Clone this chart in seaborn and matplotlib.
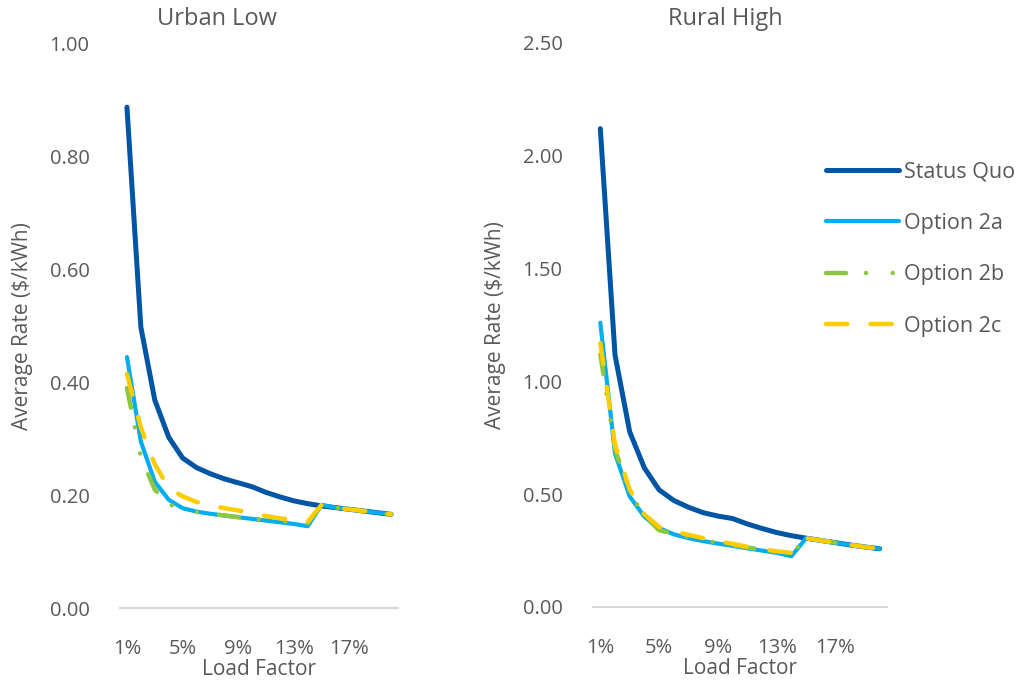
"""Average rate vs load factor — Urban Low and Rural High panels."""

import matplotlib
matplotlib.use("Agg")
import matplotlib.pyplot as plt
import seaborn as sns

LOAD_FACTOR = list(range(1, 21))
TICK_POS = [1, 5, 9, 13, 17]
TICK_LABELS = ["1%", "5%", "9%", "13%", "17%"]

SERIES = ["Status Quo", "Option 2a", "Option 2b", "Option 2c"]

# Urban Low ($/kWh)
URBAN_SQ = [0.888, 0.498, 0.369, 0.303, 0.266, 0.249, 0.238, 0.229, 0.222, 0.215,
            0.205, 0.197, 0.190, 0.185, 0.181, 0.178, 0.175, 0.172, 0.169, 0.166]
URBAN_2A = [0.445, 0.295, 0.224, 0.192, 0.177, 0.171, 0.167, 0.164, 0.161, 0.158,
            0.155, 0.152, 0.149, 0.145, 0.183, 0.178, 0.175, 0.172, 0.169, 0.166]
URBAN_2B = [0.390, 0.268, 0.210, 0.185, 0.172, 0.170, 0.167, 0.164, 0.161, 0.159,
            0.156, 0.154, 0.152, 0.150, 0.183, 0.178, 0.175, 0.172, 0.169, 0.166]
URBAN_2C = [0.415, 0.320, 0.255, 0.213, 0.198, 0.188, 0.182, 0.177, 0.173, 0.168,
            0.163, 0.159, 0.156, 0.153, 0.183, 0.178, 0.175, 0.172, 0.169, 0.166]

# Rural High ($/kWh)
RURAL_SQ = [2.12, 1.117, 0.776, 0.616, 0.519, 0.472, 0.442, 0.418, 0.403, 0.392,
            0.368, 0.348, 0.330, 0.316, 0.305, 0.295, 0.285, 0.275, 0.266, 0.258]
RURAL_2A = [1.26, 0.680, 0.490, 0.400, 0.350, 0.322, 0.305, 0.292, 0.281, 0.271,
            0.260, 0.250, 0.240, 0.225, 0.305, 0.295, 0.285, 0.275, 0.266, 0.258]
RURAL_2B = [1.12, 0.700, 0.505, 0.405, 0.340, 0.325, 0.310, 0.296, 0.285, 0.275,
            0.264, 0.254, 0.245, 0.235, 0.305, 0.295, 0.285, 0.275, 0.266, 0.258]
RURAL_2C = [1.17, 0.720, 0.520, 0.410, 0.355, 0.335, 0.320, 0.305, 0.292, 0.280,
            0.267, 0.256, 0.247, 0.240, 0.305, 0.295, 0.285, 0.275, 0.266, 0.258]

COLORS = {
    "Status Quo": "#0055A4",
    "Option 2a": "#00AEEF",
    "Option 2b": "#8DC63F",
    "Option 2c": "#FFCC00",
}
WIDTHS = {"Status Quo": 3.6, "Option 2a": 3.0, "Option 2b": 3.2, "Option 2c": 3.2}
STYLES = {
    "Status Quo": "-",
    "Option 2a": "-",
    "Option 2b": (0, (4.5, 4.5, 0.01, 6, 0.01, 5)),
    "Option 2c": (0, (4.8, 5.2)),
}

GRAY = "#595959"

sns.set_style("white")
plt.rcParams.update({
    "font.family": ["Open Sans", "DejaVu Sans"],
    "text.color": GRAY,
    "axes.labelcolor": GRAY,
    "xtick.color": GRAY,
    "ytick.color": GRAY,
})

fig = plt.figure(figsize=(10.3, 6.82), dpi=100)
ax1 = fig.add_axes([0.1165, 0.1085, 0.27, 0.827])
ax2 = fig.add_axes([0.5757, 0.1100, 0.2854, 0.827])

panels = [
    (ax1, "Urban Low", [URBAN_SQ, URBAN_2A, URBAN_2B, URBAN_2C], 1.0, 0.2, 0.211),
    (ax2, "Rural High", [RURAL_SQ, RURAL_2A, RURAL_2B, RURAL_2C], 2.5, 0.5, 0.704),
]

for ax, title, data, ymax, step, title_x in panels:
    for name, vals in zip(SERIES, data):
        sns.lineplot(
            x=LOAD_FACTOR, y=vals, ax=ax, color=COLORS[name],
            linewidth=WIDTHS[name], linestyle=STYLES[name],
            solid_capstyle="round", dash_capstyle="round",
            solid_joinstyle="round", label=name, legend=False,
        )
    ax.set_xlim(0.5, 20.5)
    ax.set_ylim(0, ymax)
    n = int(round(ymax / step))
    ax.set_yticks([i * step for i in range(n + 1)])
    ax.set_yticklabels([f"{i * step:.2f}" for i in range(n + 1)])
    ax.set_xticks(TICK_POS)
    ax.set_xticklabels(TICK_LABELS)
    ax.tick_params(axis="both", length=0, labelsize=14.5)
    ax.tick_params(axis="x", pad=22)
    ax.tick_params(axis="y", pad=22)
    for side in ["top", "right", "left"]:
        ax.spines[side].set_visible(False)
    ax.spines["bottom"].set_color("#D9D9D9")
    ax.spines["bottom"].set_linewidth(1.5)
    ax.set_xlabel("Load Factor", fontsize=15, labelpad=0)
    ax.set_ylabel("Average Rate ($/kWh)", fontsize=15, labelpad=12)
    fig.text(title_x, 0.972, title, ha="center", va="center", fontsize=17, color=GRAY)

handles, labels = ax2.get_legend_handles_labels()
leg = ax2.legend(
    handles, labels, loc="upper left", bbox_to_anchor=(0.765, 0.805),
    frameon=False, fontsize=15.5, handlelength=3.35, handletextpad=0.25,
    labelspacing=1.41, borderaxespad=0,
)
for text in leg.get_texts():
    text.set_color(GRAY)

fig.savefig("out.png", dpi=100)
